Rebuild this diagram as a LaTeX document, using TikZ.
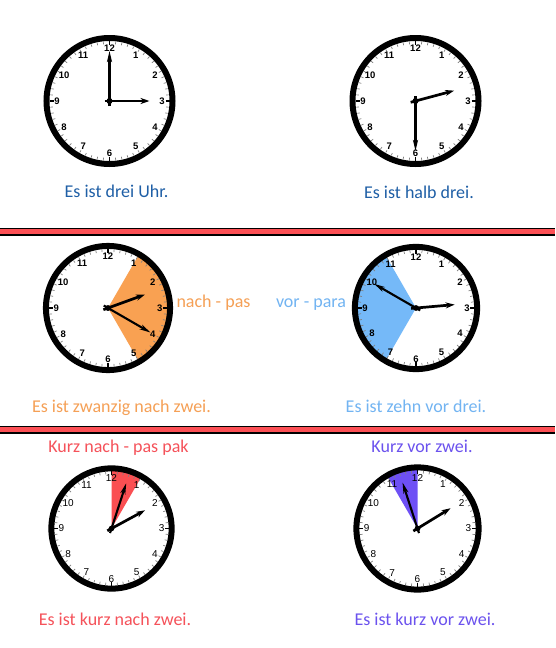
\documentclass[tikz,border=0pt]{standalone}
\usepackage{fontspec}
\setmainfont{Carlito}
\newfontfamily\numfont{Liberation Sans}
\usetikzlibrary{arrows.meta}
\definecolor{dblue}{HTML}{1F5FA6}
\definecolor{ortext}{HTML}{F5A056}
\definecolor{orfill}{HTML}{F9A152}
\definecolor{lbtext}{HTML}{72B4F2}
\definecolor{lbfill}{HTML}{75B9F8}
\definecolor{rdtext}{HTML}{F5525A}
\definecolor{rdfill}{HTML}{FA4F52}
\definecolor{sepred}{HTML}{FC5055}
\definecolor{putext}{HTML}{6B52EE}
\definecolor{pufill}{HTML}{6E50F5}
\tikzset{
  txt/.style={font=\fontsize{18}{21}\selectfont, anchor=base, inner sep=0pt},
  numlbl/.style={inner sep=0pt},
  hourhand/.style={line width=2.7pt, -{Stealth[length=9pt,width=6pt]}},
  minhand/.style={line width=2.1pt, -{Stealth[length=11pt,width=5pt,inset=3pt]}},
}
% #1 cx, #2 cy, #3 R, #4 hour angle, #5 minute angle, #6 sector colour, #7 a1, #8 a2, #9 number font
\newcommand{\myclock}[9]{%
\begin{scope}[shift={(#1,#2)}, scale=#3/66]
  \fill[white] (0,0) circle[radius=61];
  \fill[#6] (0,0) -- plot[domain=#7:#8, samples=40, variable=\t] ({61*sin(\t)},{-61*cos(\t)}) -- cycle;
  \foreach \m in {0,...,59}
    \draw[line width=0.7pt, black!50] ({57*sin(6*\m)},{-57*cos(6*\m)}) -- ({59.5*sin(6*\m)},{-59.5*cos(6*\m)});
  \foreach \h in {0,3,6,9}
    \draw[line width=1.3pt, black] ({56*sin(30*\h)},{-56*cos(30*\h)}) -- ({60*sin(30*\h)},{-60*cos(30*\h)});
  \foreach \h in {1,...,12}
    \node[numlbl, font=#9] (num\h) at ({52.5*sin(30*\h)},{-52.5*cos(30*\h)}) {\h};
  \draw[line width=6pt] (0,0) circle[radius=63];
  \draw[hourhand] ({-5*sin(#4)},{5*cos(#4)}) -- ({40*sin(#4)},{-40*cos(#4)});
  \draw[minhand] ({-5*sin(#5)},{5*cos(#5)}) -- ({50*sin(#5)},{-50*cos(#5)});
  \fill (0,0) circle[radius=3];
\end{scope}}
\begin{document}
\begin{tikzpicture}[x=1pt, y=-1pt]
\useasboundingbox (0,0) rectangle (555,648);
\fill[white] (0,0) rectangle (555,648);

% clocks
\myclock{109.5}{101}{66}{90}{0}{white}{0}{1}{\numfont\bfseries\fontsize{9.5}{10}\selectfont}
\myclock{415.5}{101}{66}{75}{180}{white}{0}{1}{\numfont\bfseries\fontsize{9.5}{10}\selectfont}
\myclock{108}{308}{65}{70}{120}{orfill}{30}{150}{\numfont\bfseries\fontsize{9.5}{10}\selectfont}
\myclock{416}{308}{64}{85}{300}{lbfill}{210}{330}{\numfont\bfseries\fontsize{9.5}{10}\selectfont}
\myclock{111.5}{528.5}{63}{61.5}{18}{rdfill}{0}{30}{\numfont\fontsize{10}{11}\selectfont}
\myclock{417.5}{528.5}{64}{58.5}{342}{pufill}{330}{360}{\numfont\fontsize{10}{11}\selectfont}

% separators
\fill[black] (0,227.5) rectangle (555,236);
\fill[sepred] (0,229.2) rectangle (555,234.4);
\fill[black] (0,425.5) rectangle (555,434);
\fill[sepred] (0,427.2) rectangle (555,432.4);

% texts
\node[txt, text=dblue] (t1) at (116.5,197) {Es ist drei Uhr.};
\node[txt, text=dblue] (t2) at (419,198) {Es ist halb drei.};
\node[txt, text=ortext] (t3) at (213.5,307) {nach - pas};
\node[txt, text=lbtext] (t4) at (311,307) {vor - para};
\node[txt, text=ortext] (t5) at (121.5,412) {Es ist zwanzig nach zwei.};
\node[txt, text=lbtext] (t6) at (416,412) {Es ist zehn vor drei.};
\node[txt, text=rdtext] (t7) at (118.5,452) {Kurz nach - pas pak};
\node[txt, text=putext] (t8) at (422,452) {Kurz vor zwei.};
\node[txt, text=rdtext] (t9) at (115,625) {Es ist kurz nach zwei.};
\node[txt, text=putext] (t10) at (425,625) {Es ist kurz vor zwei.};
\end{tikzpicture}
\end{document}
